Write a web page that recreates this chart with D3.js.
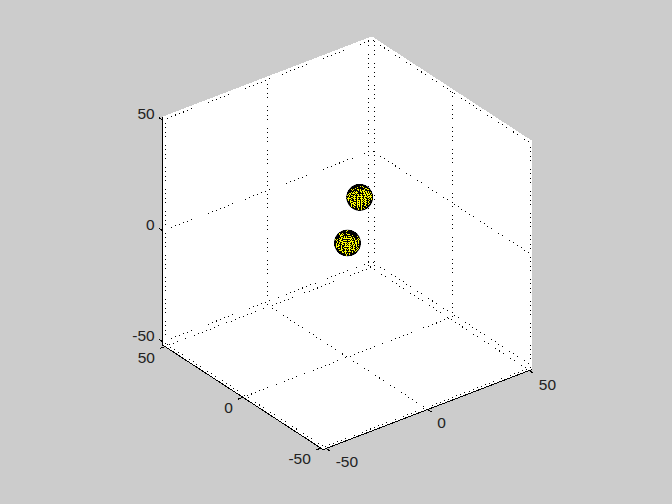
<!DOCTYPE html>
<html>
<head>
<meta charset="utf-8">
<script src="https://cdn.jsdelivr.net/npm/d3@7"></script>
<style>
html,body{margin:0;padding:0;background:#cccccc;overflow:hidden}
text{font-family:"Liberation Sans",Arial,sans-serif;font-size:15.5px;fill:#222}
</style>
</head>
<body>
<script>
// Values
const xTicks = [-50, 0, 50];
const yTicks = [-50, 0, 50];
const zTicks = [-50, 0, 50];
const tickLabelsX = ["-50", "0", "50"];
const tickLabelsY = ["-50", "0", "50"];
const tickLabelsZ = ["-50", "0", "50"];
const limit = 51.5;
const sphereCentersX = [0, 6];
const sphereCentersY = [0, 0];
const sphereCentersZ = [0, 18.5];
const sphereRadius = 5;
const sphereSegments = 20;
const azimuthDeg = -37.5;
const elevationDeg = 30;

const W = 672, H = 504;
const svg = d3.select("body").append("svg").attr("width", W).attr("height", H)
  .style("display", "block");
svg.append("rect").attr("width", W).attr("height", H).attr("fill", "#cccccc");

const unit = d3.scaleLinear().domain([-limit, limit]).range([-limit * 2.56, limit * 2.56]);
const az = azimuthDeg * Math.PI / 180, el = elevationDeg * Math.PI / 180;
const cx = 347.5, cy = 243;
function project(x, y, z) {
  const X = unit(x), Y = unit(y), Z = unit(z);
  const u = X * Math.cos(az) + Y * Math.sin(az);
  const d = -X * Math.sin(az) + Y * Math.cos(az);
  return [cx + u, cy - (Z * Math.cos(el) + d * Math.sin(el))];
}
function depth(x, y, z) {
  const X = unit(x), Y = unit(y), Z = unit(z);
  return (X * Math.sin(az) - Y * Math.cos(az)) * Math.cos(el) + Z * Math.sin(el);
}
const L = limit;
const line = d3.line();
const poly = pts => line(pts.map(p => project(...p))) + "Z";

// Plot region (three visible walls)
svg.append("path")
  .attr("d", poly([[-L,L,L],[L,L,L],[L,-L,L],[L,-L,-L],[-L,-L,-L],[-L,L,-L]]))
  .attr("fill", "#fff").attr("shape-rendering", "crispEdges");

// Grid lines on the walls and floor
const gridSegs = [];
xTicks.forEach(t => {
  gridSegs.push([[t,L,-L],[t,L,L]]);
  gridSegs.push([[t,-L,-L],[t,L,-L]]);
});
yTicks.forEach(t => {
  gridSegs.push([[L,t,-L],[L,t,L]]);
  gridSegs.push([[-L,t,-L],[L,t,-L]]);
});
zTicks.forEach(t => {
  gridSegs.push([[-L,L,t],[L,L,t]]);
  gridSegs.push([[L,-L,t],[L,L,t]]);
});
svg.append("g").selectAll("path").data(gridSegs).join("path")
  .attr("d", s => line(s.map(p => project(...p))))
  .attr("fill", "none").attr("stroke", "#000").attr("stroke-width", 1)
  .attr("stroke-dasharray", "0.8 3.6").attr("shape-rendering", "crispEdges");

// Spheres: a latitude/longitude mesh with black edges, painted back to front
const faces = [];
sphereCentersX.forEach((c, i) => {
  const pt = (a, b) => [
    c + sphereRadius * Math.cos(b) * Math.cos(a),
    sphereCentersY[i] + sphereRadius * Math.cos(b) * Math.sin(a),
    sphereCentersZ[i] + sphereRadius * Math.sin(b)
  ];
  const n = sphereSegments;
  for (let p = 0; p < n; p++) for (let q = 0; q < n; q++) {
    const a0 = 2 * Math.PI * p / n, a1 = 2 * Math.PI * (p + 1) / n;
    const b0 = -Math.PI / 2 + Math.PI * q / n, b1 = -Math.PI / 2 + Math.PI * (q + 1) / n;
    const f = [pt(a0,b0), pt(a1,b0), pt(a1,b1), pt(a0,b1)];
    const m = [0,1,2].map(k => d3.mean(f, v => v[k]));
    faces.push({f, d: depth(...m)});
  }
});
faces.sort((a, b) => d3.ascending(a.d, b.d));
const sphereLayer = svg.append("g");
sphereCentersX.forEach((c, i) => {
  const p = project(c, sphereCentersY[i], sphereCentersZ[i]);
  sphereLayer.append("circle").attr("cx", p[0]).attr("cy", p[1])
    .attr("r", unit(sphereRadius) + 0.5).attr("fill", "#000");
});
sphereLayer.selectAll("path").data(faces).join("path")
  .attr("d", o => poly(o.f))
  .attr("fill", "#ffff00").attr("stroke", "#000").attr("stroke-width", 1)
  .attr("stroke-dasharray", "1 1")
  .attr("shape-rendering", "crispEdges");

// Axis lines
const axisSegs = [
  [[-L,L,-L],[-L,L,L]],
  [[-L,-L,-L],[-L,L,-L]],
  [[-L,-L,-L],[L,-L,-L]]
];
svg.append("g").selectAll("path").data(axisSegs).join("path")
  .attr("d", s => line(s.map(p => project(...p))))
  .attr("fill", "none").attr("stroke", "#000").attr("stroke-width", 1)
  .attr("shape-rendering", "crispEdges");

// Tick marks
const tk = 2.5;
const tickSegs = [
  ...xTicks.map(t => [[t,-L,-L],[t,-L-tk,-L]]),
  ...yTicks.map(t => [[-L,t,-L],[-L-tk,t,-L]]),
  ...zTicks.map(t => [[-L,L,t],[-L,L+tk,t]])
];
svg.append("g").selectAll("path").data(tickSegs).join("path")
  .attr("d", s => line(s.map(p => project(...p))))
  .attr("fill", "none").attr("stroke", "#000").attr("stroke-width", 1)
  .attr("shape-rendering", "crispEdges");

// Tick labels
const labels = [
  ...xTicks.map((t, i) => ({p: project(t,-L,-L), s: tickLabelsX[i], dx: 9.5, dy: 14, a: "start"})),
  ...yTicks.map((t, i) => ({p: project(-L,t,-L), s: tickLabelsY[i], dx: -10, dy: 11, a: "end"})),
  ...zTicks.map((t, i) => ({p: project(-L,L,t), s: tickLabelsZ[i], dx: -8, dy: -5.5, a: "end"}))
];
svg.append("g").selectAll("text").data(labels).join("text")
  .attr("x", d => d.p[0] + d.dx).attr("y", d => d.p[1] + d.dy + 5)
  .attr("text-anchor", d => d.a).text(d => d.s);
</script>
</body>
</html>
